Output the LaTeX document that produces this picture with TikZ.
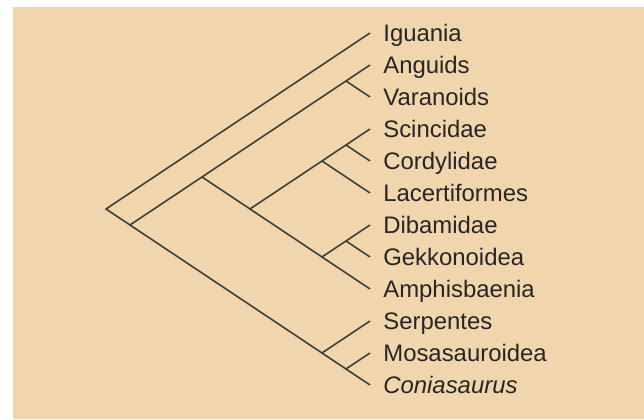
\documentclass[tikz,border=0pt]{standalone}
\usepackage{fontspec}
\setmainfont{Liberation Sans}
\usetikzlibrary{positioning}
\definecolor{paper}{RGB}{240,213,173}
\definecolor{branch}{RGB}{58,66,56}

\begin{document}
\begin{tikzpicture}[x=0.02cm,y=-0.02cm,every node/.style={font=\fontsize{13.6}{16}\selectfont,text=black!85}]
\useasboundingbox (0,0) rectangle (644,419);
\fill[paper] (13,7) rectangle (644,419);
% tips
\coordinate (t0) at (370,33);
\coordinate (t1) at (370,65);
\coordinate (t2) at (370,97);
\coordinate (t3) at (370,129);
\coordinate (t4) at (370,161);
\coordinate (t5) at (370,193);
\coordinate (t6) at (370,225);
\coordinate (t7) at (370,257);
\coordinate (t8) at (370,289);
\coordinate (t9) at (370,321);
\coordinate (t10) at (370,353);
\coordinate (t11) at (370,385);
% inner nodes
\coordinate (root) at (106,209);
\coordinate (n2) at (130,225);
\coordinate (n3) at (202,177);
\coordinate (n4) at (250,209);
\coordinate (nav) at (346,81);
\coordinate (nscl) at (322,161);
\coordinate (nsc) at (346,145);
\coordinate (ndga) at (322,257);
\coordinate (ndg) at (346,241);
\coordinate (nsmc) at (322,353);
\coordinate (nmc) at (346,369);
\draw[branch,line width=.9pt,line join=round] (t0)--(root)--(n2)--(nsmc)--(nmc)--(t11);
\draw[branch,line width=.9pt,line join=round] (n2)--(n3)--(nav)--(t1);
\draw[branch,line width=.9pt](nav)--(t2);
\draw[branch,line width=.9pt,line join=round] (n3)--(n4)--(ndga)--(t8);
\draw[branch,line width=.9pt,line join=round] (n4)--(nscl)--(nsc)--(t3);
\draw[branch,line width=.9pt](nsc)--(t4);
\draw[branch,line width=.9pt](nscl)--(t5);
\draw[branch,line width=.9pt,line join=round] (ndga)--(ndg)--(t6);
\draw[branch,line width=.9pt](ndg)--(t7);
\draw[branch,line width=.9pt](nsmc)--(t9);
\draw[branch,line width=.9pt](nmc)--(t10);
% labels
\node[anchor=base west,inner sep=0pt] (iguania) at (383,41.5) {Iguania};
\node[anchor=base west,inner sep=0pt] (anguids) at (383,73.5) {Anguids};
\node[anchor=base west,inner sep=0pt] (varanoids) at (383,105.5) {Varanoids};
\node[anchor=base west,inner sep=0pt] (scincidae) at (383,137.5) {Scincidae};
\node[anchor=base west,inner sep=0pt] (cordylidae) at (383,169.5) {Cordylidae};
\node[anchor=base west,inner sep=0pt] (lacertiformes) at (383,201.5) {Lacertiformes};
\node[anchor=base west,inner sep=0pt] (dibamidae) at (383,233.5) {Dibamidae};
\node[anchor=base west,inner sep=0pt] (gekkonoidea) at (383,265.5) {Gekkonoidea};
\node[anchor=base west,inner sep=0pt] (amphisbaenia) at (383,297.5) {Amphisbaenia};
\node[anchor=base west,inner sep=0pt] (serpentes) at (383,329.5) {Serpentes};
\node[anchor=base west,inner sep=0pt] (mosasauroidea) at (383,361.5) {Mosasauroidea};
\node[anchor=base west,inner sep=0pt] (coniasaurus) at (383,393.5) {\itshape Coniasaurus};
\end{tikzpicture}
\end{document}
